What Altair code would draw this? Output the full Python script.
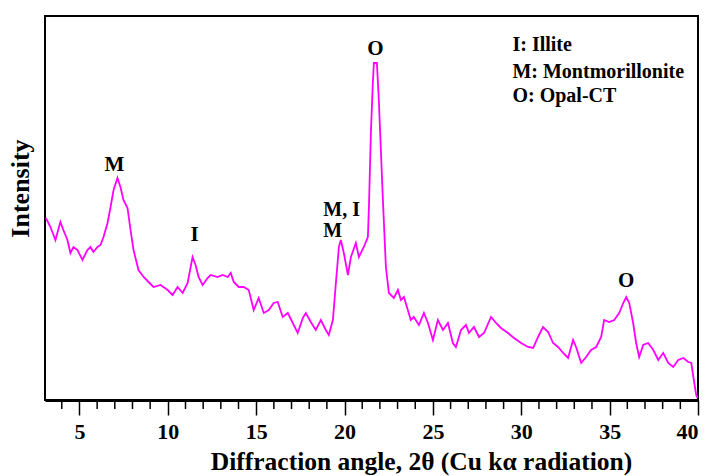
import altair as alt
import pandas as pd

# 2-theta (degrees) and relative intensity
two_theta = [3.10, 3.36, 3.64, 3.92, 4.09, 4.32, 4.49, 4.66, 4.89, 5.17, 5.45, 5.62, 5.79, 6.02, 6.19,
             6.36, 6.59, 6.76, 6.93, 7.15, 7.32, 7.49, 7.72, 7.89, 8.06, 8.34, 8.63, 8.91, 9.19, 9.59,
             9.99, 10.27, 10.55, 10.84, 11.12, 11.40, 11.57, 11.74, 11.97, 12.25, 12.42, 12.82, 13.10,
             13.39, 13.56, 13.73, 14.01, 14.29, 14.58, 14.86, 15.14, 15.43, 15.71, 15.99, 16.22, 16.50,
             16.79, 17.07, 17.35, 17.64, 17.81, 18.09, 18.37, 18.66, 18.94, 19.11, 19.34, 19.51, 19.68,
             19.79, 19.96, 20.19, 20.36, 20.64, 20.81, 21.09, 21.32, 21.38, 21.49, 21.60, 21.66, 21.83,
             21.94, 22.17, 22.34, 22.51, 22.79, 23.02, 23.19, 23.36, 23.58, 23.75, 23.92, 24.21, 24.49,
             24.72, 25.00, 25.28, 25.57, 25.85, 26.13, 26.30, 26.59, 26.87, 27.04, 27.32, 27.61, 27.89,
             28.29, 28.57, 28.85, 29.25, 29.59, 29.99, 30.38, 30.67, 30.95, 31.23, 31.52, 31.80, 32.08,
             32.37, 32.65, 32.93, 33.10, 33.39, 33.67, 33.95, 34.24, 34.52, 34.69, 34.97, 35.26, 35.54,
             35.77, 35.94, 36.11, 36.33, 36.50, 36.67, 36.90, 37.18, 37.47, 37.75, 38.03, 38.32, 38.60,
             38.88, 39.17, 39.45, 39.62, 39.79, 39.90, 39.98]
intensity = [182, 173, 160, 178, 170, 160, 147, 153, 150, 140, 150, 153, 148, 153, 155,
             163, 177, 193, 210, 222, 213, 200, 192, 170, 150, 130, 123, 118, 113, 115,
             110, 105, 113, 107, 117, 143, 135, 123, 115, 122, 125, 123, 125,
             123, 127, 118, 113, 113, 110, 90, 102, 87, 90, 97, 98, 83,
             87, 77, 67, 82, 87, 78, 70, 80, 70, 65, 80, 117, 153,
             160, 147, 125, 143, 157, 143, 153, 163, 193, 267, 317, 337, 337,
             300, 200, 133, 107, 102, 110, 100, 103, 90, 80, 83, 75, 87,
             77, 60, 80, 70, 77, 57, 53, 70, 75, 67, 73, 63, 67,
             83, 77, 72, 67, 62, 57, 53, 52, 63, 73, 68, 57, 53,
             47, 42, 60, 53, 37, 43, 50, 53, 63, 80, 78, 80, 87,
             97, 103, 97, 77, 57, 43, 55, 57, 50, 40, 47, 37, 33,
             40, 42, 38, 37, 17, 5, 2]

# Peak annotations
peak_text = ["M", "I", "O", "O"]
peak_x = [6.98, 11.52, 21.75, 35.93]
peak_y = [229, 159, 345, 113]

mi_text = ["M, I", "M"]
mi_x = [18.8, 18.8]
mi_y = [184, 163]

legend_text = ["I: Illite", "M: Montmorillonite", "O: Opal-CT"]
legend_x = [29.5, 29.5, 29.5]
legend_y = [349, 322, 298]

major_ticks = [5, 10, 15, 20, 25, 30, 35, 40]
minor_ticks = [4, 6, 7, 8, 9, 11, 12, 13, 14, 16, 17, 18, 19, 21, 22, 23, 24,
               26, 27, 28, 29, 31, 32, 33, 34, 36, 37, 38, 39]

FONT = "'Liberation Serif', 'Times New Roman', Times, serif"

df = pd.DataFrame({"x": two_theta, "y": intensity})
df_peak = pd.DataFrame({"x": peak_x, "y": peak_y, "t": peak_text})
df_mi = pd.DataFrame({"x": mi_x, "y": mi_y, "t": mi_text})
df_leg = pd.DataFrame({"x": legend_x, "y": legend_y, "t": legend_text})
df_minor = pd.DataFrame({"x": minor_ticks})

xscale = alt.Scale(domain=[3.05, 40.0], nice=False, zero=False)
yscale = alt.Scale(domain=[0, 384], nice=False, zero=False)

xaxis = alt.Axis(
    title="Diffraction angle, 2θ (Cu kα radiation)",
    values=major_ticks,
    tickSize=15,
    tickColor="black",
    tickWidth=1.5,
    domainColor="black",
    domainWidth=3,
    grid=False,
    labelFont=FONT,
    labelFontWeight="bold",
    labelFontSize=22,
    labelColor="black",
    labelPadding=6,
    labelFlush=True,
    labelOverlap=False,
    titleFont=FONT,
    titleFontWeight="bold",
    titleFontSize=25.5,
    titleColor="black",
    titleX=376,
    titleY=69,
    titleBaseline="alphabetic",
)
yaxis = alt.Axis(
    title="Intensity",
    labels=False,
    ticks=False,
    domain=False,
    grid=False,
    titleFont=FONT,
    titleFontWeight="bold",
    titleFontSize=26,
    titleColor="black",
    titleX=-17,
    titleY=172,
    titleBaseline="alphabetic",
)

X = alt.X("x:Q", scale=xscale, axis=xaxis)
Y = alt.Y("y:Q", scale=yscale, axis=yaxis)

line = alt.Chart(df).mark_line(color="#ff00ff", strokeWidth=1.8).encode(x=X, y=Y)

minor = alt.Chart(df_minor).mark_rule(color="black", strokeWidth=1.5).encode(
    x=X, y=alt.value(384), y2=alt.value(393)
)

peaks = alt.Chart(df_peak).mark_text(
    font=FONT, fontWeight="bold", fontSize=21, color="black", align="center", baseline="alphabetic"
).encode(x=X, y=Y, text="t:N")

mi = alt.Chart(df_mi).mark_text(
    font=FONT, fontWeight="bold", fontSize=20, color="black", align="left", baseline="alphabetic"
).encode(x=X, y=Y, text="t:N")

legend = alt.Chart(df_leg).mark_text(
    font=FONT, fontWeight="bold", fontSize=20, color="black", align="left", baseline="alphabetic"
).encode(x=X, y=Y, text="t:N")

chart = alt.layer(line, minor, peaks, mi, legend).properties(
    width=653,
    height=384,
    autosize=alt.AutoSizeParams(type="none"),
    padding={"left": 45, "top": 16, "right": 7, "bottom": 76},
    background="white",
).configure_view(stroke="black", strokeWidth=2)

chart.save("out.html", embed_options={"renderer": "svg", "actions": False})
